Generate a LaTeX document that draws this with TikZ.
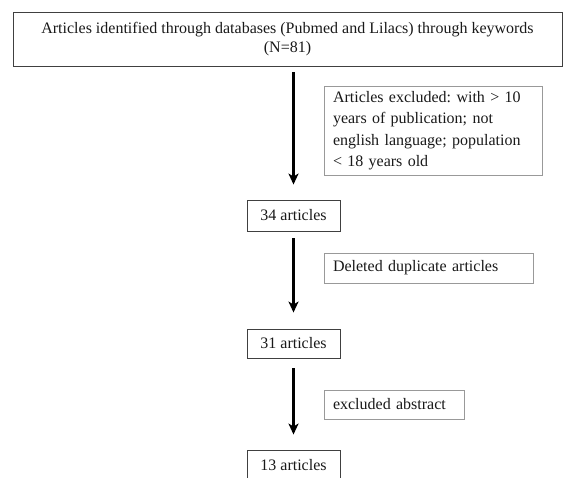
\documentclass[tikz,border=0pt]{standalone}
\usepackage{fontspec}
\setmainfont{Liberation Serif}
\usetikzlibrary{arrows.meta}
\frenchspacing
\begin{document}
\begin{tikzpicture}[x=1pt, y=-1pt,
    main/.style = {draw=black!75, line width=0.9pt, inner sep=0pt, text=black!90,
                   font=\fontsize{16}{19}\selectfont},
    excl/.style = {draw=black!40, line width=0.9pt, inner xsep=9pt, inner ysep=0pt,
                   text=black!90, align=left, font=\fontsize{16}{21.5}\selectfont},
    flow/.style = {line width=2.4pt, -{Stealth[length=11pt, width=10pt, inset=3pt]}}]
    \useasboundingbox (0,0) rectangle (570,477);
    \node[main, minimum width=549pt, minimum height=54pt, align=center] (ident) at (287.5,39)
        {Articles identified through databases (Pubmed and Lilacs) through keywords\\(N=81)};
    \node[excl, text width=200pt, minimum height=89pt] (ex1) at (433,130.5)
        {Articles excluded: with >~10\\years of publication; not\\english language; population\\<~18 years old};
    \node[main, minimum width=93pt, minimum height=31pt] (a34) at (293.5,215.5) {34 articles};
    \node[excl, text width=191pt, minimum height=30pt] (ex2) at (428.5,268) {Deleted duplicate articles};
    \node[main, minimum width=93pt, minimum height=29pt] (a31) at (293.5,343.5) {31 articles};
    \node[excl, text width=122pt, minimum height=29pt] (ex3) at (394,404.5) {excluded abstract};
    \node[main, minimum width=93pt, minimum height=31pt] (a13) at (293.5,465.5) {13 articles};
    \draw[flow, shorten <=6pt, shorten >=15pt] (a34.north |- ident.south) -- (a34.north);
    \draw[flow, shorten <=7pt, shorten >=16pt] (a34) -- (a31);
    \draw[flow, shorten <=10pt, shorten >=15pt] (a31) -- (a13);
\end{tikzpicture}
\end{document}
